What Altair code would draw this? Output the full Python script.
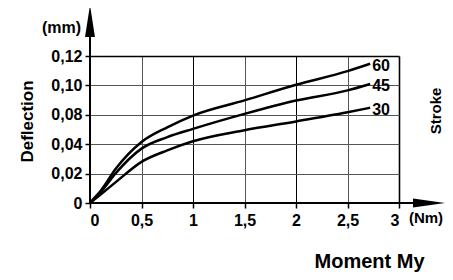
import altair as alt
import pandas as pd

# Data
moment = [0, 0.03, 0.1, 0.25, 0.5, 0.75, 1, 1.5, 2, 2.5, 2.72]
defl_60 = [0, 0.0025, 0.008, 0.0233, 0.043, 0.063, 0.079, 0.0898, 0.1004, 0.1097, 0.1147]
defl_45 = [0, 0.0021, 0.007, 0.0203, 0.037, 0.0496, 0.0608, 0.0806, 0.0897, 0.0966, 0.101]
defl_30 = [0, 0.0017, 0.0056, 0.0142, 0.028, 0.0358, 0.044, 0.059, 0.071, 0.0818, 0.0848]
series = ["60", "45", "30"]
y_ticks = [0, 0.02, 0.04, 0.08, 0.10, 0.12]
x_ticks = [0, 0.5, 1, 1.5, 2, 2.5, 3]

W, H = 309, 147
FONT = "Liberation Sans"

rows = []
for name, vals in zip(series, [defl_60, defl_45, defl_30]):
    for m, d in zip(moment, vals):
        rows.append({"moment": m, "deflection": d, "series": name})
df = pd.DataFrame(rows)
label_df = pd.DataFrame({
    "moment": [moment[-1]] * 3,
    "deflection": [defl_60[-1], defl_45[-1], defl_30[-1]],
    "series": series,
})

# piecewise y scale: tick labels are evenly spaced (0.06 is skipped in the original)
n = len(y_ticks) - 1
y_range = [H - i * H / n for i in range(n + 1)]
yscale = alt.Scale(domain=y_ticks, range=y_range, nice=False, zero=False)
xscale = alt.Scale(domain=[0, 3], nice=False, zero=False)

xaxis = alt.Axis(
    values=x_ticks, tickCount=20, labelOverlap=False,
    labelExpr="replace(toString(datum.value), '.', ',')",
    grid=True,
    gridColor={"condition": {"test": "datum.value % 1 === 0", "value": "#000000"}, "value": "#555555"},
    gridWidth={"condition": {"test": "datum.value === 3", "value": 1.6}, "value": 1},
    domain=False,
    ticks=True, tickColor="black", tickSize=5, tickWidth=1.5,
    labelFont=FONT, labelFontSize=16, labelFontWeight="bold", labelColor="black",
    labelPadding=4, labelAngle=0,
    title="Moment My", titleFont=FONT, titleFontSize=20, titleFontWeight="bold",
    titleColor="black", titleX=279, titleY=64, titleAlign="center",
    titleBaseline="alphabetic",
)
yaxis = alt.Axis(
    values=y_ticks, tickCount=20, labelOverlap=False,
    labelExpr="datum.value == 0 ? '0\u00a0' : replace(format(datum.value, '.2f'), '.', ',')",
    grid=True,
    gridColor={"condition": {"test": "datum.value > 0.11", "value": "#000000"}, "value": "#555555"},
    gridWidth={"condition": {"test": "datum.value > 0.11", "value": 1.6}, "value": 1},
    domain=False,
    ticks=True, tickColor="black", tickSize=5, tickWidth=1.5,
    labelFont=FONT, labelFontSize=16, labelFontWeight="bold", labelColor="black",
    labelPadding=3,
    title="Deflection", titleFont=FONT, titleFontSize=17, titleFontWeight="bold",
    titleColor="black", titleX=-58, titleY=65, titleAlign="center",
    titleBaseline="alphabetic", titleAngle=270,
)

base = alt.Chart(df)
lines = base.mark_line(color="black", strokeWidth=2.5, interpolate="monotone").encode(
    x=alt.X("moment:Q", scale=xscale, axis=xaxis),
    y=alt.Y("deflection:Q", scale=yscale, axis=yaxis),
    detail="series:N",
)
labels = alt.Chart(label_df).mark_text(
    align="left", baseline="middle", dx=2, dy=2,
    font=FONT, fontSize=16, fontWeight="bold", color="black",
).encode(
    x=alt.X("moment:Q", scale=xscale),
    y=alt.Y("deflection:Q", scale=yscale),
    text="series:N",
)

deco = alt.Chart(pd.DataFrame({"k": [0]}))
y_line = deco.mark_rule(color="black", strokeWidth=2).encode(
    x=alt.value(0), y=alt.value(H), y2=alt.value(-20))
x_line = deco.mark_rule(color="black", strokeWidth=2).encode(
    x=alt.value(0), x2=alt.value(325), y=alt.value(H))
y_arrow = deco.mark_point(shape="M0,-1L0.31,1L-0.31,1Z", filled=True, size=1024,
                          color="black", opacity=1, strokeWidth=0).encode(
    x=alt.value(0), y=alt.value(-35))
x_arrow = deco.mark_point(shape="M1,0L-1,-0.28L-1,0.28Z", filled=True, size=1024,
                          color="black", opacity=1, strokeWidth=0).encode(
    x=alt.value(339), y=alt.value(H))
txt_style = dict(font=FONT, fontWeight="bold", color="black")
mm_text = deco.mark_text(align="center", baseline="middle", fontSize=16, **txt_style).encode(
    x=alt.value(-28.5), y=alt.value(-28), text=alt.value("(mm)"))
nm_text = deco.mark_text(align="center", baseline="middle", fontSize=15, **txt_style).encode(
    x=alt.value(336), y=alt.value(162), text=alt.value("(Nm)"))
stroke_text = deco.mark_text(align="center", baseline="alphabetic", angle=270,
                             fontSize=15, **txt_style).encode(
    x=alt.value(351), y=alt.value(55), text=alt.value("Stroke"))

chart = alt.layer(
    lines, labels, y_line, x_line, y_arrow, x_arrow, mm_text, nm_text, stroke_text
).properties(
    width=W, height=H,
    padding={"left": 82, "top": 48, "right": 46, "bottom": 69},
    autosize=alt.AutoSizeParams(type="none"),
    background="white",
).configure_view(stroke=None)

chart.save("out.html", embed_options={"renderer": "svg", "actions": False})
